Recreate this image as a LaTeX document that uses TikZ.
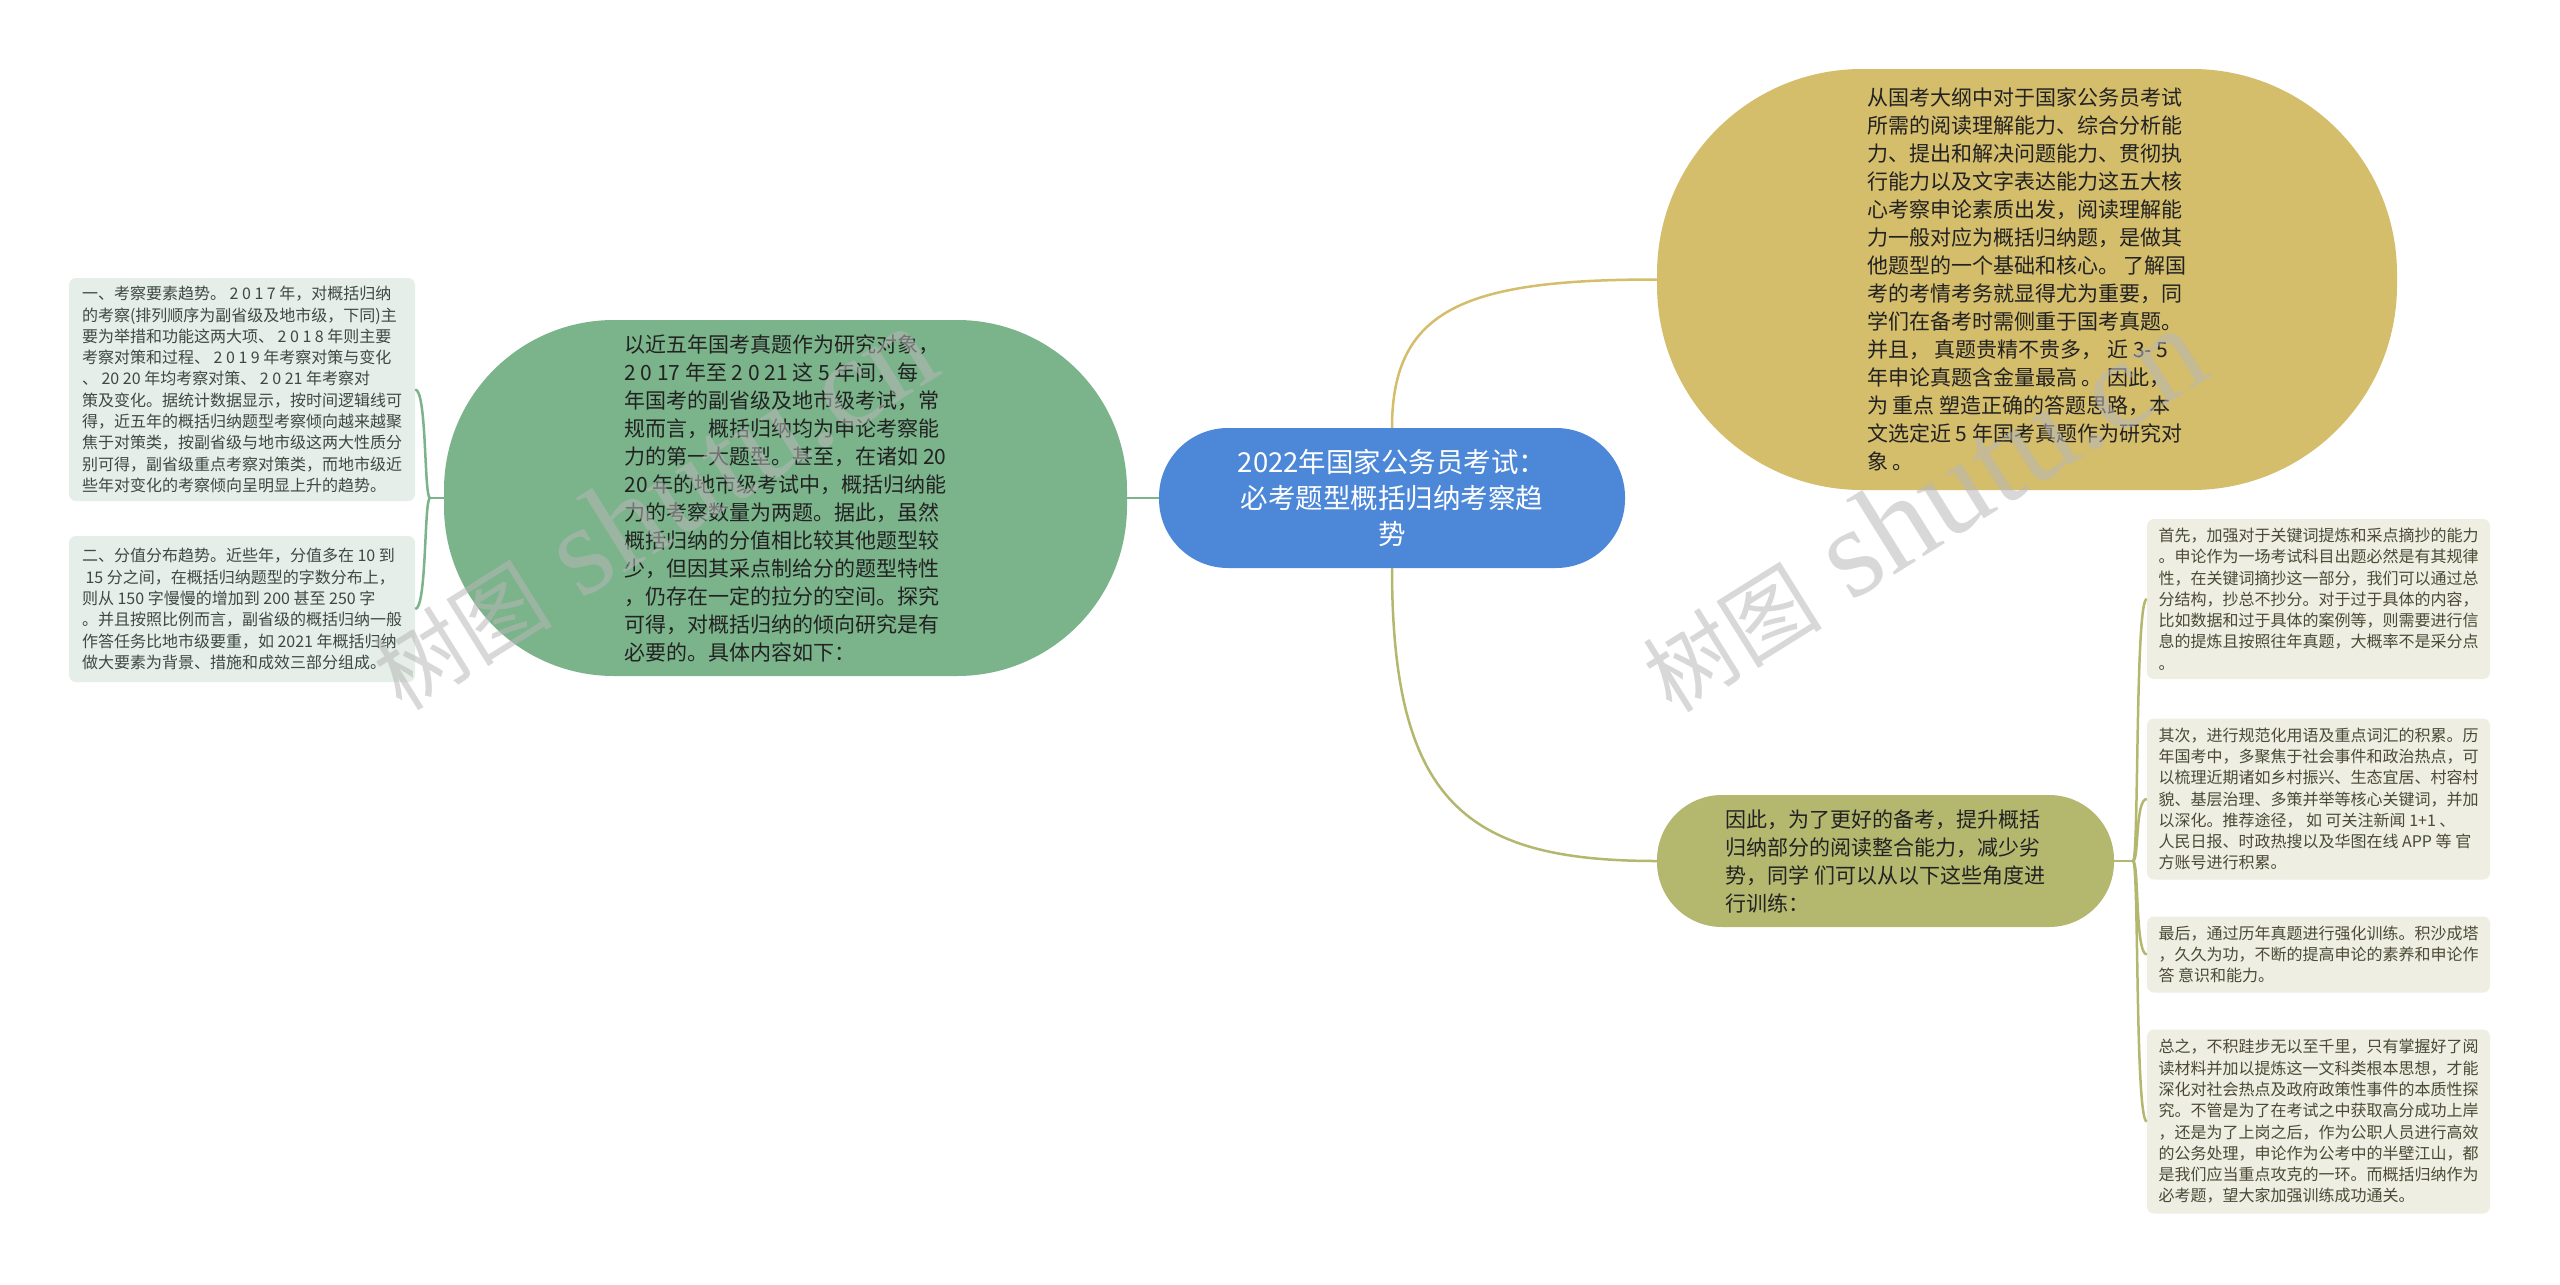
\documentclass[tikz,border=0pt]{standalone}
\usepackage{fontspec}
\setmainfont{Noto Sans CJK SC}
\newfontfamily\wmserif{Liberation Serif}
\definecolor{cBlue}{HTML}{4C87D8}
\definecolor{cGreen}{HTML}{7BB38B}
\definecolor{cYellow}{HTML}{D4BD6B}
\definecolor{cOlive}{HTML}{B4B86F}
\definecolor{cLeafL}{HTML}{E5EEE8}
\definecolor{cLeafR}{HTML}{EEEEE2}
\definecolor{cTxtL}{HTML}{3C4A40}
\definecolor{cTxtR}{HTML}{4A4A36}
\definecolor{cMain}{HTML}{222222}
\definecolor{cWm}{HTML}{B8B8B8}
\begin{document}
\begin{tikzpicture}[x=1pt,y=-1pt,
  mainbox/.style={align=left,inner sep=0pt,text=cMain,font=\fontsize{21pt}{28pt}\selectfont},
  leafl/.style={fill=cLeafL,rounded corners=7pt,minimum width=346pt,inner sep=0pt,align=left,text=cTxtL,font=\fontsize{16pt}{21.3pt}\selectfont},
  leafr/.style={fill=cLeafR,rounded corners=7pt,minimum width=343pt,inner sep=0pt,align=left,text=cTxtR,font=\fontsize{16pt}{21.3pt}\selectfont},
  lnG/.style={draw=cGreen,line width=2.5pt},
  lnY/.style={draw=cYellow,line width=2.5pt},
  lnO/.style={draw=cOlive,line width=2.5pt},
  wmark/.style={text=cWm,opacity=0.55,rotate=32,inner sep=0pt}
]
\fill[white] (0,0) rectangle (2560,1285);
\useasboundingbox (0,0) rectangle (2560,1285);

% center
\node[fill=cBlue,rounded corners=69pt,minimum width=466pt,minimum height=140pt,inner sep=0pt,
  align=center,text=white,font=\fontsize{27.5pt}{36pt}\selectfont] (center) at (1392,498)
  {2022年国家公务员考试：\\必考题型概括归纳考察趋\\势};

% green
\node[mainbox,fill=cGreen,rounded corners=170pt,minimum width=683pt,minimum height=356pt] (green) at (785.5,498)
{以近五年国考真题作为研究对象，\\
2 0 17 年至 2 0 21 这 5 年间，每\\
年国考的副省级及地市级考试，常\\
规而言，概括归纳均为申论考察能\\
力的第一大题型。甚至，在诸如 20\\
20 年的地市级考试中，概括归纳能\\
力的考察数量为两题。据此，虽然\\
概括归纳的分值相比较其他题型较\\
少，但因其采点制给分的题型特性\\
，仍存在一定的拉分的空间。探究\\
可得，对概括归纳的倾向研究是有\\
必要的。具体内容如下：};

% yellow
\node[mainbox,fill=cYellow,rounded corners=205pt,minimum width=740pt,minimum height=421pt] (yellow) at (2027,279.5)
{从国考大纲中对于国家公务员考试\\
所需的阅读理解能力、综合分析能\\
力、提出和解决问题能力、贯彻执\\
行能力以及文字表达能力这五大核\\
心考察申论素质出发，阅读理解能\\
力一般对应为概括归纳题，是做其\\
他题型的一个基础和核心。 了解国\\
考的考情考务就显得尤为重要，同\\
学们在备考时需侧重于国考真题。\\
并且， 真题贵精不贵多， 近 3- 5\\
年申论真题含金量最高 。 因此，\\
为 重点 塑造正确的答题思路，本\\
文选定近 5 年国考真题作为研究对\\
象 。};

% olive
\node[mainbox,fill=cOlive,rounded corners=65pt,minimum width=457pt,minimum height=132pt] (olive) at (1885.5,861)
{因此，为了更好的备考，提升概括\\
归纳部分的阅读整合能力，减少劣\\
势，同学 们可以从以下这些角度进\\
行训练：};

% left leaves
\node[leafl,minimum height=223pt] (L1) at (242,389.5)
{一、考察要素趋势。 2 0 1 7 年，对概括归纳\\
的考察(排列顺序为副省级及地市级，下同)主\\
要为举措和功能这两大项、 2 0 1 8 年则主要\\
考察对策和过程、 2 0 1 9 年考察对策与变化\\
、 20 20 年均考察对策、 2 0 21 年考察对\\
策及变化。据统计数据显示，按时间逻辑线可\\
得，近五年的概括归纳题型考察倾向越来越聚\\
焦于对策类，按副省级与地市级这两大性质分\\
别可得，副省级重点考察对策类，而地市级近\\
些年对变化的考察倾向呈明显上升的趋势。};
\node[leafl,minimum height=146pt] (L2) at (242,609)
{二、分值分布趋势。近些年，分值多在 10 到\\
\ 15 分之间，在概括归纳题型的字数分布上，\\
则从 150 字慢慢的增加到 200 甚至 250 字\\
。并且按照比例而言，副省级的概括归纳一般\\
作答任务比地市级要重，如 2021 年概括归纳\\
做大要素为背景、措施和成效三部分组成。};

% right leaves
\node[leafr,minimum height=160pt] (RA) at (2318.5,599)
{首先，加强对于关键词提炼和采点摘抄的能力\\
。申论作为一场考试科目出题必然是有其规律\\
性，在关键词摘抄这一部分，我们可以通过总\\
分结构，抄总不抄分。对于过于具体的内容，\\
比如数据和过于具体的案例等，则需要进行信\\
息的提炼且按照往年真题，大概率不是采分点\\
。};
\node[leafr,minimum height=161pt] (RB) at (2318.5,799)
{其次，进行规范化用语及重点词汇的积累。历\\
年国考中，多聚焦于社会事件和政治热点，可\\
以梳理近期诸如乡村振兴、生态宜居、村容村\\
貌、基层治理、多策并举等核心关键词，并加\\
以深化。推荐途径， 如 可关注新闻 1+1 、\\
人民日报、时政热搜以及华图在线 APP 等 官\\
方账号进行积累。};
\node[leafr,minimum height=76pt] (RC) at (2318.5,954.5)
{最后，通过历年真题进行强化训练。积沙成塔\\
，久久为功，不断的提高申论的素养和申论作\\
答 意识和能力。};
\node[leafr,minimum height=184pt] (RD) at (2318.5,1121.5)
{总之，不积跬步无以至千里，只有掌握好了阅\\
读材料并加以提炼这一文科类根本思想，才能\\
深化对社会热点及政府政策性事件的本质性探\\
究。不管是为了在考试之中获取高分成功上岸\\
，还是为了上岗之后，作为公职人员进行高效\\
的公务处理，申论作为公考中的半壁江山，都\\
是我们应当重点攻克的一环。而概括归纳作为\\
必考题，望大家加强训练成功通关。};

% connectors from center
\draw[lnG] (center.west) -- (green.east);
\draw[lnY] (center.north) .. controls +(0,-120) and +(-190,0) .. (yellow.west);
\draw[lnO] (center.south) .. controls +(0,235) and +(-190,0) .. (olive.west);

% left bracket
\coordinate (jl) at (430,498);
\draw[lnG] (green.west) -- (jl);
\draw[lnG] (jl) .. controls (424,498) and (427,389.5) .. (L1.east);
\draw[lnG] (jl) .. controls (424,498) and (427,609) .. (L2.east);

% right bracket
\coordinate (jr) at (2133,861);
\draw[lnO] (olive.east) -- (jr);
\draw[lnO] (jr) .. controls (2139,861) and (2135,599) .. (RA.west);
\draw[lnO] (jr) .. controls (2139,861) and (2135,799) .. (RB.west);
\draw[lnO] (jr) .. controls (2139,861) and (2135,954.5) .. (RC.west);
\draw[lnO] (jr) .. controls (2139,861) and (2135,1121.5) .. (RD.west);

% watermarks
\node[wmark] (wm1) at (652,508) {\fontsize{90pt}{90pt}\selectfont 树图\hspace{30pt}{\wmserif\fontsize{128pt}{128pt}\selectfont shutu.cn}};
\node[wmark] (wm2) at (1922,510) {\fontsize{90pt}{90pt}\selectfont 树图\hspace{30pt}{\wmserif\fontsize{128pt}{128pt}\selectfont shutu.cn}};
\end{tikzpicture}
\end{document}
